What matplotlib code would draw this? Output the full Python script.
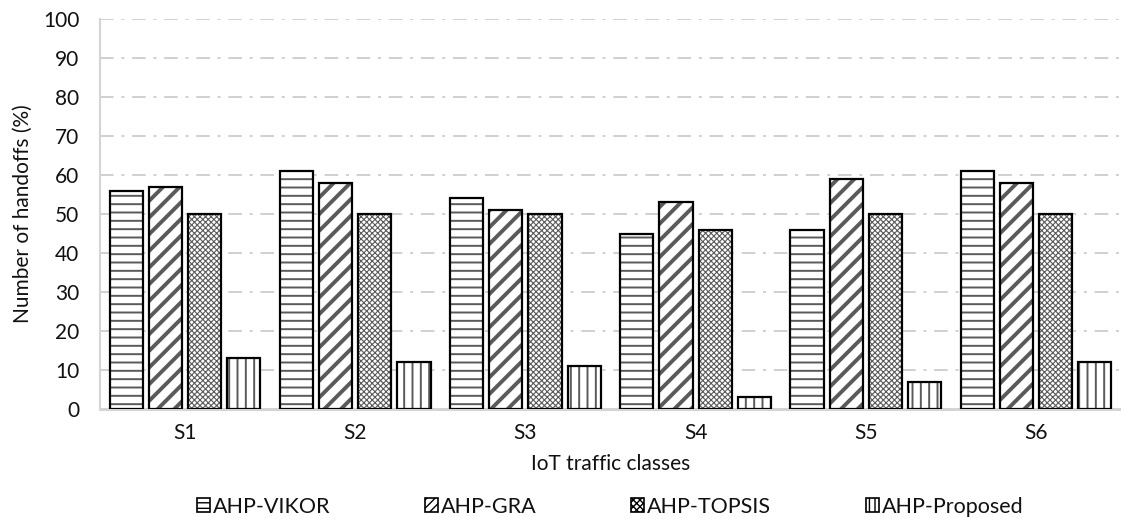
import matplotlib
matplotlib.use('Agg')
import matplotlib.pyplot as plt
import numpy as np
from matplotlib.patches import Patch

# Data
classes = ['S1', 'S2', 'S3', 'S4', 'S5', 'S6']
methods = ['AHP-VIKOR', 'AHP-GRA', 'AHP-TOPSIS', 'AHP-Proposed']
vikor = [56, 61, 54, 45, 46, 61]
gra = [57, 58, 51, 53, 59, 58]
topsis = [50, 50, 50, 46, 50, 50]
proposed = [13, 12, 11, 3, 7, 12]

plt.rcParams['font.family'] = ['Lato', 'DejaVu Sans']
plt.rcParams['font.size'] = 15

fig = plt.figure(figsize=(11.21, 5.19), dpi=100)
ax = fig.add_axes([100 / 1121, 1 - 409 / 519, 1 - 100 / 1121, 390 / 519])

x = np.arange(len(classes))
width = 0.195
offsets = [-0.345, -0.115, 0.115, 0.345]
hatches = ['--', '//', 'xxxxxx', '||']
hatch_lw = [1.4, 2.8, 0.8, 1.4]
hatch_col = '#5a5a5a'
series = [vikor, gra, topsis, proposed]

# hatched fill in gray, then a black outline on top
for vals, off, h, hlw in zip(series, offsets, hatches, hatch_lw):
    with plt.rc_context({'hatch.linewidth': hlw}):
        ax.bar(x + off, vals, width, color='white', edgecolor=hatch_col,
               hatch=h, linewidth=0, zorder=2)
    ax.bar(x + off, vals, width, fill=False, edgecolor='black',
           linewidth=1.6, zorder=3)

ax.set_xlim(-0.5, 5.5)
ax.set_ylim(0, 100)
ax.set_yticks(np.arange(0, 101, 10))
ax.set_xticks(x)
ax.set_xticklabels(classes)
ax.tick_params(axis='y', length=0, pad=15, labelsize=15, colors='#111111')
ax.tick_params(axis='x', length=0, pad=10, labelsize=15, colors='#111111')

ax.grid(axis='y', color='#d0d0d0', linewidth=1.4, dashes=(7, 4, 1.5, 4), zorder=0)
ax.set_axisbelow(True)
for s in ['top', 'right']:
    ax.spines[s].set_visible(False)
ax.spines['bottom'].set_color('#d4d4d4')
ax.spines['bottom'].set_linewidth(2.2)
ax.spines['left'].set_color('#d4d4d4')
ax.spines['left'].set_linewidth(1.5)

ax.set_ylabel('Number of handoffs (%)', fontsize=15, labelpad=7, color='#111111')
ax.set_xlabel('IoT traffic classes', fontsize=15, labelpad=8, color='#111111')

handles = [Patch(facecolor='white', edgecolor='black', hatch=h, linewidth=1.2)
           for h in ['---', '////', 'xxxxx', '|||']]
fig.legend(handles, methods, loc='center', bbox_to_anchor=(610 / 1121, 1 - 507 / 519),
           ncol=4, frameon=False, handlelength=0.62, handleheight=0.62,
           handletextpad=0.12, columnspacing=4.4, fontsize=15.5,
           labelcolor='#111111')

fig.savefig('out.png', dpi=100)
